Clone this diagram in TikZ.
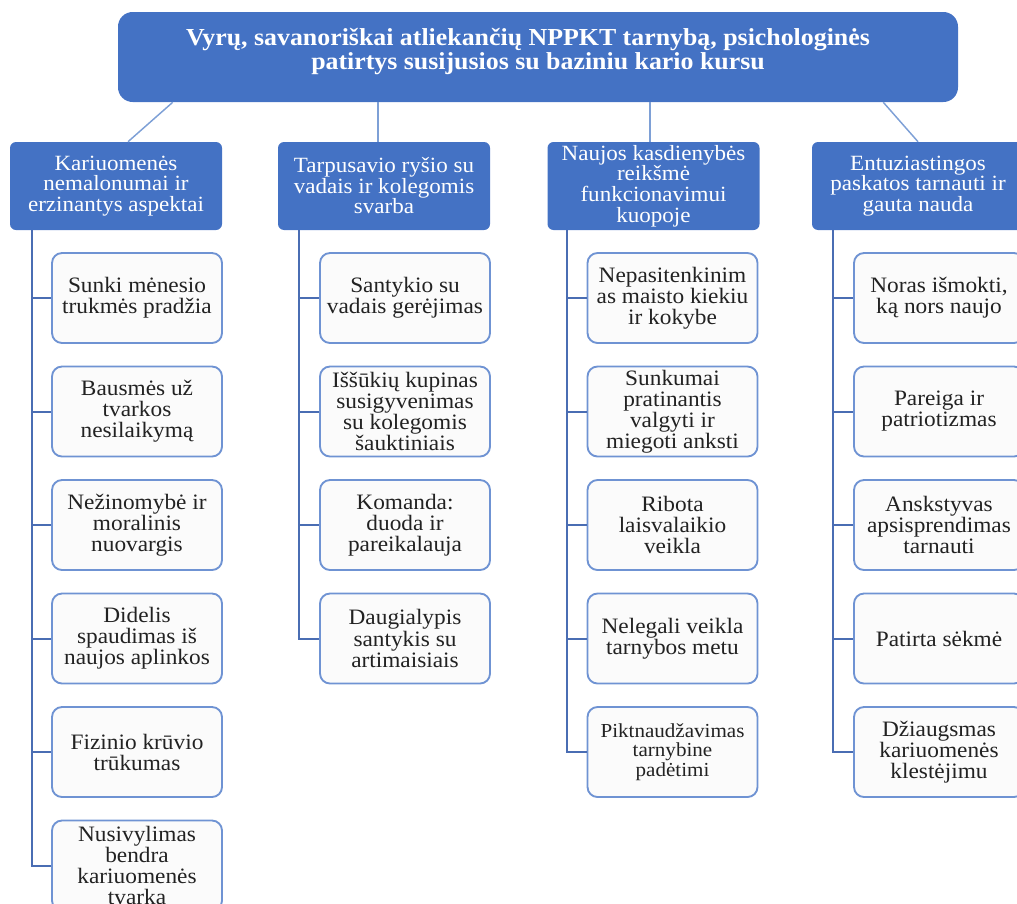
\documentclass[tikz,border=0pt]{standalone}
\usepackage{fontspec}
\setmainfont{Liberation Serif}[FakeStretch=1.06]
\definecolor{mainblue}{HTML}{4472C4}
\definecolor{boxline}{HTML}{6F93D3}
\definecolor{treeline}{HTML}{4A6DB3}
\definecolor{toplink}{HTML}{7EA0D6}
\definecolor{childtext}{HTML}{222222}
\definecolor{childfill}{HTML}{FBFBFB}
\begin{document}
\begin{tikzpicture}[x=0.75pt,y=-0.75pt,
  topbox/.style={rectangle, rounded corners=11pt, fill=mainblue, minimum width=630pt, minimum height=67.5pt, inner sep=0pt, align=center, text=white, font=\bfseries\fontsize{18.3}{16.3}\selectfont},
  catbox/.style={rectangle, rounded corners=4.5pt, fill=mainblue, minimum width=159pt, minimum height=66pt, inner sep=0pt, align=center, text=white, font=\fontsize{16.3}{15.4}\selectfont},
  childbox/.style={rectangle, rounded corners=7.5pt, draw=boxline, line width=1.4pt, fill=childfill, minimum width=127.5pt, minimum height=67.5pt, inner sep=0pt, align=center, text=childtext, font=\fontsize{16.5}{15.8}\selectfont},
  smallchild/.style={childbox, font=\fontsize{14.9}{14.4}\selectfont},
  tree/.style={draw=treeline, line width=1.5pt},
  toplinkstyle/.style={draw=toplink, line width=1.1pt}
]
\useasboundingbox (0,0) rectangle (1017,903);
\clip (0,0) rectangle (1017,903);

% top box
\node[topbox] (top) at (538,57) {Vyrų, savanoriškai atliekančių NPPKT tarnybą, psichologinės\hspace*{15pt}\\patirtys susijusios su baziniu kario kursu\hspace*{15pt}\\[-4pt]};

% categories
\node[catbox] (cat1) at (116,186) {Kariuomenės\\nemalonumai ir\\erzinantys aspektai};
\node[catbox] (cat2) at (384,186) {Tarpusavio ryšio su\\vadais ir kolegomis\\svarba};
\node[catbox] (cat3) at (653.5,186) {Naujos kasdienybės\\reikšmė\\funkcionavimui\\kuopoje};
\node[catbox] (cat4) at (918,186) {Entuziastingos\\paskatos tarnauti ir\\gauta nauda};

% links top -> categories
\draw[toplinkstyle] ([xshift=41.25pt]top.south west) -- ([xshift=9pt]cat1.north);
\draw[toplinkstyle] (top.south -| 378,0) -- (cat2.north -| 378,0);
\draw[toplinkstyle] (top.south -| 650,0) -- (cat3.north -| 650,0);
\draw[toplinkstyle] ([xshift=-56.25pt]top.south east) -- (cat4.north);

% column 1 children
\node[childbox] (a1) at (137,298) {Sunki mėnesio\\trukmės pradžia};
\node[childbox] (a2) at (137,411.5) {Bausmės už\\tvarkos\\nesilaikymą};
\node[childbox] (a3) at (137,525) {Nežinomybė ir\\moralinis\\nuovargis};
\node[childbox] (a4) at (137,638.5) {Didelis\\spaudimas iš\\naujos aplinkos};
\node[childbox] (a5) at (137,752) {Fizinio krūvio\\trūkumas};
\node[childbox] (a6) at (137,865.5) {Nusivylimas\\bendra\\kariuomenės\\tvarka};

% column 2 children
\node[childbox] (b1) at (405,298) {Santykio su\\vadais gerėjimas};
\node[childbox] (b2) at (405,411.5) {Iššūkių kupinas\\susigyvenimas\\su kolegomis\\šauktiniais};
\node[childbox] (b3) at (405,525) {Komanda:\\duoda ir\\pareikalauja};
\node[childbox] (b4) at (405,638.5) {Daugialypis\\santykis su\\artimaisiais};

% column 3 children
\node[childbox] (c1) at (672.5,298) {Nepasitenkinim\\as maisto kiekiu\\ir kokybe};
\node[childbox] (c2) at (672.5,411.5) {Sunkumai\\pratinantis\\valgyti ir\\miegoti anksti};
\node[childbox] (c3) at (672.5,525) {Ribota\\laisvalaikio\\veikla};
\node[childbox] (c4) at (672.5,638.5) {Nelegali veikla\\tarnybos metu};
\node[smallchild] (c5) at (672.5,752) {Piktnaudžavimas\\tarnybine\\padėtimi};

% column 4 children
\node[childbox] (d1) at (939,298) {Noras išmokti,\\ką nors naujo};
\node[childbox] (d2) at (939,411.5) {Pareiga ir\\patriotizmas};
\node[childbox] (d3) at (939,525) {Anskstyvas\\apsisprendimas\\tarnauti};
\node[childbox] (d4) at (939,638.5) {Patirta sėkmė};
\node[childbox] (d5) at (939,752) {Džiaugsmas\\kariuomenės\\klestėjimu};

% tree connectors
\foreach \c in {a1,a2,a3,a4,a5,a6}
  \draw[tree] ([xshift=16.5pt]cat1.south west) |- (\c.west);
\foreach \c in {b1,b2,b3,b4}
  \draw[tree] ([xshift=15.75pt]cat2.south west) |- (\c.west);
\foreach \c in {c1,c2,c3,c4,c5}
  \draw[tree] ([xshift=15pt]cat3.south west) |- (\c.west);
\foreach \c in {d1,d2,d3,d4,d5}
  \draw[tree] ([xshift=15.75pt]cat4.south west) |- (\c.west);
\end{tikzpicture}
\end{document}
